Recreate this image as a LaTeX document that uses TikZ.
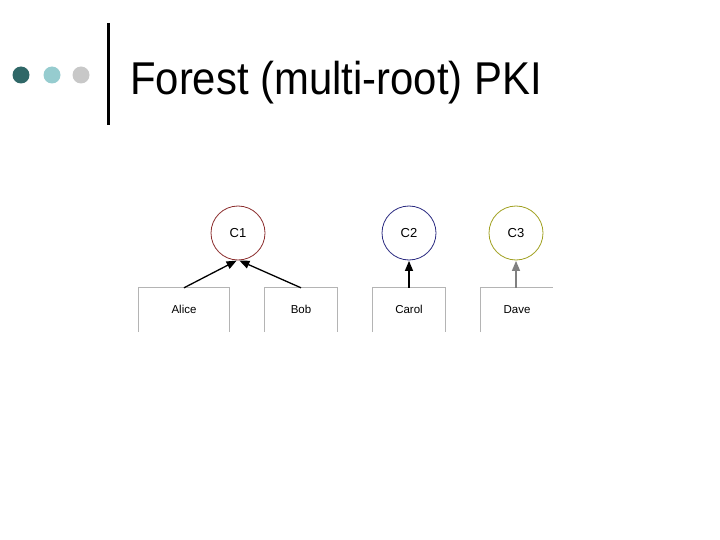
\documentclass[tikz,border=0pt]{standalone}
\usepackage{fontspec}
\setmainfont{Liberation Sans}
\usetikzlibrary{arrows.meta}
\definecolor{dotdark}{HTML}{2F6767}
\definecolor{dotlight}{HTML}{96CCCF}
\definecolor{dotgrey}{HTML}{C8C8C8}
\definecolor{caone}{HTML}{8B2D2D}
\definecolor{catwo}{HTML}{2A2A80}
\definecolor{cathree}{HTML}{A0A020}
\definecolor{boxgrey}{HTML}{B4B4B4}
\tikzset{
  ca/.style={circle, draw, line width=0.8pt, minimum size=54pt, inner sep=0pt, font=\fontsize{13}{13}\selectfont},
  user/.style={minimum width=72pt, minimum height=44pt, inner sep=0pt, text height=8.5pt, text depth=2.5pt, font=\fontsize{11.5}{11.5}\selectfont},
  side/.style={draw=boxgrey, line width=0.8pt},
  sign/.style={-{Triangle[length=10pt,width=8pt]}, line width=1.3pt, shorten >=0.5pt}
}
\begin{document}
\begin{tikzpicture}[x=1pt,y=-1pt]
      \useasboundingbox (0,0) rectangle (720,540);
      % header
      \fill[dotdark] (21,75) circle (8.5);
      \fill[dotlight] (52,75) circle (8.5);
      \fill[dotgrey] (81,75) circle (8.5);
      \draw[line width=3pt] (108,23) -- (108,125);
      \node[anchor=base west, inner sep=0pt, xscale=0.91, font=\fontsize{46}{46}\selectfont] (title) at (130,95) {Forest (multi-root) PKI};
      % roots
      \draw
        (238,233) node[ca, draw=caone] (c1){C1}
        (409,233) node[ca, draw=catwo] (c2){C2}
        (516,233) node[ca, draw=cathree] (c3){C3};
      % end entities
      \draw
        (184,310) node[user, minimum width=91pt] (alice){Alice}
        (301,310) node[user] (bob){Bob}
        (409,310) node[user] (carol){Carol}
        (517,310) node[user] (dave){Dave};
      \begin{scope}[side]
        \draw (alice.south west) -- (alice.north west) -- (alice.north east) -- (alice.south east);
        \draw (bob.south west) -- (bob.north west) -- (bob.north east) -- (bob.south east);
        \draw (carol.south west) -- (carol.north west) -- (carol.north east) -- (carol.south east);
        \draw (dave.south west) -- (dave.north west) -- (dave.north east);
      \end{scope}
      \begin{scope}[sign]
        \draw (alice.north) to (c1.-92);
        \draw (bob.north) to (c1.-88);
        \draw (carol.north) to (c2.south);
        \draw[gray] (dave.north -| c3.south) to (c3.south);
      \end{scope}
    \end{tikzpicture}
\end{document}
